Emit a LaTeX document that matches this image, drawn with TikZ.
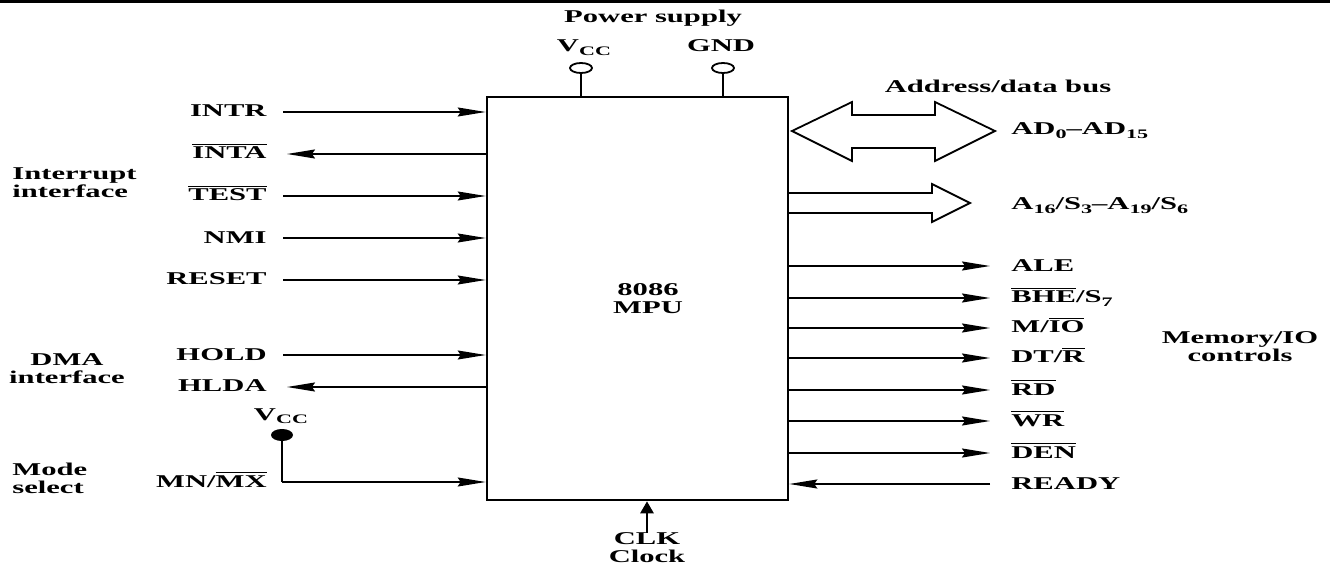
\documentclass[tikz,border=0pt]{standalone}
\usepackage{fontspec}
\setmainfont[FakeStretch=1.7]{Liberation Serif}
\usetikzlibrary{arrows.meta,shapes.geometric}
\newcommand{\ovl}[1]{$\overline{\hbox{#1}}$}
\newcommand{\sbs}[1]{\raisebox{-1.6pt}{\fontsize{6.5}{6.5}\selectfont #1}}
\tikzset{
  txt/.style={font=\bfseries\fontsize{9}{9}\selectfont, inner sep=0pt},
  siglabel/.style={txt, text height=6.5pt, text depth=1.5pt},
  grplabel/.style={txt, align=center},
  sigline/.style={line width=0.85pt},
  sigarrow/.style={sigline, -{Stealth[length=14pt,width=4.5pt,inset=1.5pt]}},
  termpin/.style={draw, ellipse, line width=0.9pt, minimum width=11pt, minimum height=5pt, inner sep=0pt},
}
\begin{document}
\begin{tikzpicture}[x=0.5pt, y=-0.5pt]
  \useasboundingbox (0,0) rectangle (1330,567);
  \fill (0,0) rectangle (1330,3);
  % MPU block
  \node (mpu) [draw, line width=1.3pt, minimum width=150.5pt, minimum height=201.5pt, inner sep=0pt] at (637.5,298.5) {};
  \node (mputxt) [grplabel] at (648,299) {8086\\MPU};
  % Power supply
  \node (pwr) [siglabel] at (653,18) {Power supply};
  \node (vcctop) [siglabel] at (584,47) {V\sbs{CC}};
  \node (gnd) [siglabel] at (721,47) {GND};
  \node (vccpin) [termpin] at (581,68) {};
  \node (gndpin) [termpin] at (723,68) {};
  \draw[sigline] (vccpin.south) -- (vccpin.south |- mpu.north);
  \draw[sigline] (gndpin.south) -- (gndpin.south |- mpu.north);
  % Inputs (left)
  \foreach \nm/\y/\lbl in {intr/112/INTR, test/196/{\ovl{TEST}}, nmi/238/NMI, reset/280/RESET, hold/355/HOLD} {
    \node (\nm) [siglabel, anchor=east] at (267,\y) {\lbl};
    \draw[sigarrow] ([xshift=8pt]\nm.east) -- (\nm.east -| mpu.west);
  }
  % Outputs (left)
  \foreach \nm/\y/\lbl in {inta/154/{\ovl{INTA}}, hlda/387/HLDA} {
    \node (\nm) [siglabel, anchor=east] at (267,\y) {\lbl};
    \draw[sigarrow] (\nm.east -| mpu.west) -- ([xshift=10pt]\nm.east);
  }
  % Mode select
  \node (mnmx) [siglabel, anchor=east] at (267,482) {MN/\ovl{MX}};
  \node (vccdot) [fill, ellipse, minimum width=11pt, minimum height=6pt, inner sep=0pt] at (282,435) {};
  \node (vccmode) [siglabel] at (281,415) {V\sbs{CC}};
  \draw[line width=1.3pt] (vccdot.center) -- (vccdot.center |- mnmx.east);
  \draw[sigarrow] (vccdot.center |- mnmx.east) -- (mnmx.east -| mpu.west);
  % Group labels
  \node (intgrp) [grplabel, align=left, anchor=west] at (12,183) {Interrupt\\interface};
  \node (dmagrp) [grplabel] at (67,369) {DMA\\interface};
  \node (modegrp) [grplabel, align=left, anchor=west] at (12,478) {Mode\\select};
  % Address/data bus
  \node (buslbl) [siglabel] at (998,88) {Address/data bus};
  \draw[line width=0.9pt] (792,131) -- (852,102) -- (852,115) -- (935,115) -- (935,102) -- (995,131)
    -- (935,161) -- (935,148) -- (852,148) -- (852,161) -- cycle;
  \node (adlbl) [siglabel, anchor=west] at (1011,130) {AD\sbs{0}--AD\sbs{15}};
  \draw[line width=0.9pt] (788,193) -- (932,193) -- (932,184) -- (970,203) -- (932,222) -- (932,213) -- (788,213);
  \node (albl) [siglabel, anchor=west] at (1011,205) {A\sbs{16}/S\sbs{3}--A\sbs{19}/S\sbs{6}};
  % Memory/IO controls (right)
  \foreach \nm/\y/\lbl in {ale/266/ALE, bhe/298/{\ovl{BHE}/S\sbs{7}}, mio/328/{M/\ovl{IO}}, dtr/358/{DT/\ovl{R}}, rd/390/{\ovl{RD}}, wr/421/{\ovl{WR}}, den/453/{\ovl{DEN}}} {
    \node (\nm) [siglabel, anchor=west] at (1011,\y) {\lbl};
    \draw[sigarrow] (\nm.west -| mpu.east) -- ([xshift=-10.5pt]\nm.west);
  }
  \node (ready) [siglabel, anchor=west] at (1011,484) {READY};
  \draw[sigarrow] ([xshift=-10.5pt]ready.west) -- (ready.west -| mpu.east);
  \node (memgrp) [grplabel] at (1240,347) {Memory/IO\\controls};
  % Clock
  \node (clk) [grplabel] at (647,548) {CLK\\Clock};
  \draw[line width=1.3pt, -{Triangle[length=6pt,width=6.5pt]}] (clk.north) -- (clk.north |- mpu.south);
\end{tikzpicture}
\end{document}
